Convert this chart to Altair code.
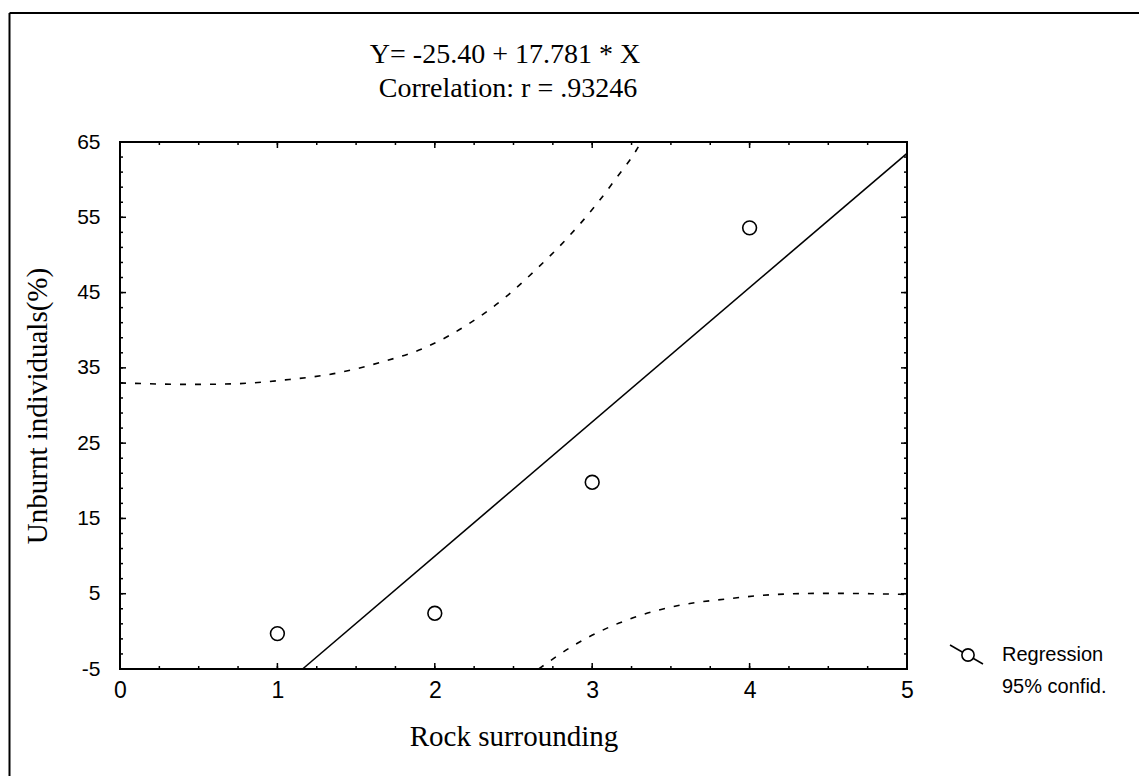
import altair as alt
import pandas as pd

# ---- data ----
obs_x = [1, 2, 3, 4]
obs_y = [-0.3, 2.4, 19.8, 53.6]

reg_x = [1.16, 5.0]
reg_y = [-5.0, 63.5]

upper_x = [0.0, 0.45, 0.75, 1.05, 1.35, 1.65, 1.95, 2.22, 2.45, 2.63, 2.84, 3.03, 3.16, 3.28, 3.31]
upper_y = [33.0, 32.8, 32.9, 33.4, 34.2, 35.7, 37.8, 40.9, 44.4, 47.8, 52.2, 56.8, 60.4, 63.9, 65.0]

lower_x = [2.66, 2.88, 3.05, 3.26, 3.54, 3.85, 4.17, 4.47, 4.77, 5.0]
lower_y = [-5.0, -1.9, 0.0, 1.8, 3.4, 4.3, 4.9, 5.05, 5.0, 4.9]

x_tick_labels = [0, 1, 2, 3, 4, 5]
y_tick_labels = [-5, 5, 15, 25, 35, 45, 55, 65]
x_minor_ticks = [0, 0.25, 0.5, 0.75, 1, 1.25, 1.5, 1.75, 2, 2.25, 2.5, 2.75, 3,
                 3.25, 3.5, 3.75, 4, 4.25, 4.5, 4.75, 5]
y_minor_ticks = [-5, -3, -1, 1, 3, 5, 7, 9, 11, 13, 15, 17, 19, 21, 23, 25, 27, 29,
                 31, 33, 35, 37, 39, 41, 43, 45, 47, 49, 51, 53, 55, 57, 59, 61, 63, 65]

title_line1 = "Y= -25.40 + 17.781 * X"
title_line2 = "Correlation: r = .93246"
x_title = "Rock surrounding"
y_title = "Unburnt individuals(%)"
legend_labels = ["Regression", "95% confid."]

W, H = 787, 527
SERIF = "Liberation Serif"
SANS = "Liberation Sans"

xs = alt.Scale(domain=[0, 5], nice=False, zero=False)
ys = alt.Scale(domain=[-5, 65], nice=False, zero=False)

x_axis = alt.Axis(values=x_tick_labels, title=x_title, grid=False, domain=False,
                  ticks=False, tickSize=0, labelFont=SANS, labelFontSize=23,
                  labelColor="black", labelPadding=10, titleFont=SERIF,
                  titleFontSize=29, titleFontWeight="normal", titleColor="black",
                  titlePadding=20, labelFlush=False, labelExpr="'' + datum.value")
y_axis = alt.Axis(values=y_tick_labels, title=y_title, grid=False, domain=False,
                  ticks=False, tickSize=0, labelFont=SANS, labelFontSize=21,
                  labelColor="black", labelPadding=20, titleFont=SERIF,
                  titleFontSize=29, titleFontWeight="normal", titleColor="black",
                  titlePadding=24, labelFlush=False, labelExpr="'' + datum.value")


def X(field="x"):
    return alt.X(f"{field}:Q", scale=xs, axis=x_axis)


def Y(field="y"):
    return alt.Y(f"{field}:Q", scale=ys, axis=y_axis)


obs_df = pd.DataFrame({"x": obs_x, "y": obs_y})
reg_df = pd.DataFrame({"x": reg_x, "y": reg_y})
up_df = pd.DataFrame({"x": upper_x, "y": upper_y})
lo_df = pd.DataFrame({"x": lower_x, "y": lower_y})
xmin_df = pd.DataFrame({"x": x_minor_ticks})
ymin_df = pd.DataFrame({"y": y_minor_ticks})
xmaj_df = pd.DataFrame({"x": x_tick_labels})
ymaj_df = pd.DataFrame({"y": y_tick_labels})
one = obs_df.head(1)

reg_line = alt.Chart(reg_df).mark_line(color="black", strokeWidth=1.6).encode(x=X(), y=Y())
upper = alt.Chart(up_df).mark_line(color="black", strokeWidth=1.6, strokeDash=[6, 9],
                                   interpolate="monotone").encode(x=X(), y=Y())
lower = alt.Chart(lo_df).mark_line(color="black", strokeWidth=1.6, strokeDash=[6, 9],
                                   interpolate="monotone").encode(x=X(), y=Y())
points = alt.Chart(obs_df).mark_point(shape="circle", size=190, filled=False,
                                      color="black", strokeWidth=1.6,
                                      opacity=1).encode(x=X(), y=Y())

# inward ticks on all four sides
def rule(df):
    return alt.Chart(df).mark_rule(color="black", strokeWidth=1.5)

tb = rule(xmin_df).encode(x=X(), y=alt.value(H), y2=alt.value(H - 3))
tt = rule(xmin_df).encode(x=X(), y=alt.value(0), y2=alt.value(3))
tl = rule(ymin_df).encode(y=Y(), x=alt.value(0), x2=alt.value(3))
tr = rule(ymin_df).encode(y=Y(), x=alt.value(W), x2=alt.value(W - 3))
tbM = rule(xmaj_df).encode(x=X(), y=alt.value(H), y2=alt.value(H - 6))
ttM = rule(xmaj_df).encode(x=X(), y=alt.value(0), y2=alt.value(6))
tlM = rule(ymaj_df).encode(y=Y(), x=alt.value(0), x2=alt.value(6))
trM = rule(ymaj_df).encode(y=Y(), x=alt.value(W), x2=alt.value(W - 6))

# outer frame (top and left edges of the page border)
frame_top = alt.Chart(one).mark_rule(color="black", strokeWidth=2).encode(
    x=alt.value(-110.5), x2=alt.value(1019), y=alt.value(-129))
frame_left = alt.Chart(one).mark_rule(color="black", strokeWidth=2).encode(
    x=alt.value(-110.5), y=alt.value(-129), y2=alt.value(634))

# title lines
t1 = alt.Chart(one).mark_text(font=SERIF, fontSize=28, align="center",
                              baseline="alphabetic", color="black",
                              text=title_line1).encode(x=alt.value(385), y=alt.value(-79))
t2 = alt.Chart(one).mark_text(font=SERIF, fontSize=28, align="center",
                              baseline="alphabetic", color="black",
                              text=title_line2).encode(x=alt.value(388), y=alt.value(-45))

# legend
leg_line = alt.Chart(one).mark_rule(color="black", strokeWidth=1.5).encode(
    x=alt.value(830), x2=alt.value(863), y=alt.value(503), y2=alt.value(522))
leg_sym = alt.Chart(one).mark_point(shape="circle", size=150, filled=True,
                                    fill="white", stroke="black",
                                    strokeWidth=1.6, opacity=1).encode(
    x=alt.value(848), y=alt.value(513))
leg_t1 = alt.Chart(one).mark_text(font=SANS, fontSize=20, align="left",
                                  baseline="middle", color="black",
                                  text=legend_labels[0]).encode(
    x=alt.value(882), y=alt.value(513))
leg_t2 = alt.Chart(one).mark_text(font=SANS, fontSize=20, align="left",
                                  baseline="middle", color="black",
                                  text=legend_labels[1]).encode(
    x=alt.value(882), y=alt.value(545))

chart = alt.layer(
    points, reg_line, upper, lower,
    tb, tt, tl, tr, tbM, ttM, tlM, trM,
    frame_top, frame_left, t1, t2, leg_line, leg_sym, leg_t1, leg_t2,
).properties(
    width=W, height=H,
    autosize=alt.AutoSizeParams(type="none"),
    padding={"left": 120, "top": 142, "right": 232, "bottom": 107},
    background="white",
).configure_view(stroke="black", strokeWidth=2)

chart.save("out.html", embed_options={"renderer": "svg", "actions": False})
